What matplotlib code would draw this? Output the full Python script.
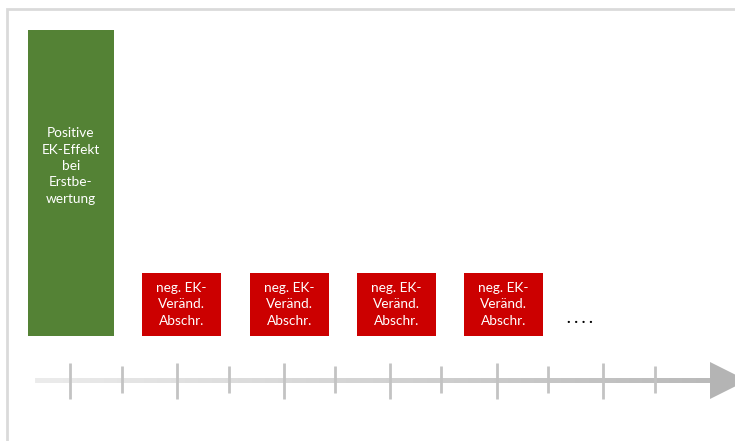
import numpy as np
import matplotlib.pyplot as plt
from matplotlib.colors import LinearSegmentedColormap
from matplotlib.patches import Polygon
plt.rcParams["font.family"] = ["Lato", "DejaVu Sans"]

# boxes on the timeline (first one = initial valuation, then the yearly changes)
box_labels = ["Positive\nEK-Effekt\nbei\nErstbe-\nwertung",
              "neg. EK-\nVeränd.\nAbschr.", "neg. EK-\nVeränd.\nAbschr.",
              "neg. EK-\nVeränd.\nAbschr.", "neg. EK-\nVeränd.\nAbschr."]
box_heights = [306, 63, 63, 63, 63]
box_colors = ["#548235", "#CC0000", "#CC0000", "#CC0000", "#CC0000"]

# timeline ticks (pixel positions), long = period, short = half period
major_ticks = [70, 177, 284, 390, 497, 603]
minor_ticks = [122, 229, 335, 441, 548, 655]

fig = plt.figure(figsize=(7.35, 4.41), dpi=100)
ax = fig.add_axes([0, 0, 1, 1])
ax.set_xlim(0, 735)
ax.set_ylim(441, 0)
ax.axis("off")

# frame (only top and left visible)
ax.plot([7, 7, 735], [441, 9, 9], color="#dadada", lw=2, solid_joinstyle="miter")

# boxes
base = 336
centers = [71, 181.5, 289.5, 396.5, 503.5]
widths = [86, 79, 79, 79, 79]
ax.bar(centers, [-h for h in box_heights], width=widths, bottom=base,
       color=box_colors, edgecolor="none")
for i, (c, h, lab) in enumerate(zip(centers, box_heights, box_labels)):
    ty = 166 if i == 0 else base - h / 2
    ax.text(c, ty, lab, color="white", ha="center", va="center",
            fontsize=9.8, linespacing=1.45)

ax.text(580, 319, ". . . .", color="black", ha="center", va="center",
        fontsize=11, fontweight="bold")

# arrow with gradient shaft
cmap = LinearSegmentedColormap.from_list("g", ["#ececec", "#bababa"])
ax.imshow(np.linspace(0, 1, 256).reshape(1, -1), cmap=cmap, aspect="auto",
          extent=[35, 711, 383, 378], zorder=1)
ax.add_patch(Polygon([[710, 362], [747, 380.5], [710, 399]], closed=True,
                     facecolor="#b4b4b4", edgecolor="none", zorder=2))
ax.vlines(major_ticks, 363, 399, color="#c3c3c3", lw=2, zorder=3)
ax.vlines(minor_ticks, 366, 393, color="#c3c3c3", lw=2, zorder=3)

ax.set_xlim(0, 735)
ax.set_ylim(441, 0)
fig.savefig("out.png", dpi=100)
